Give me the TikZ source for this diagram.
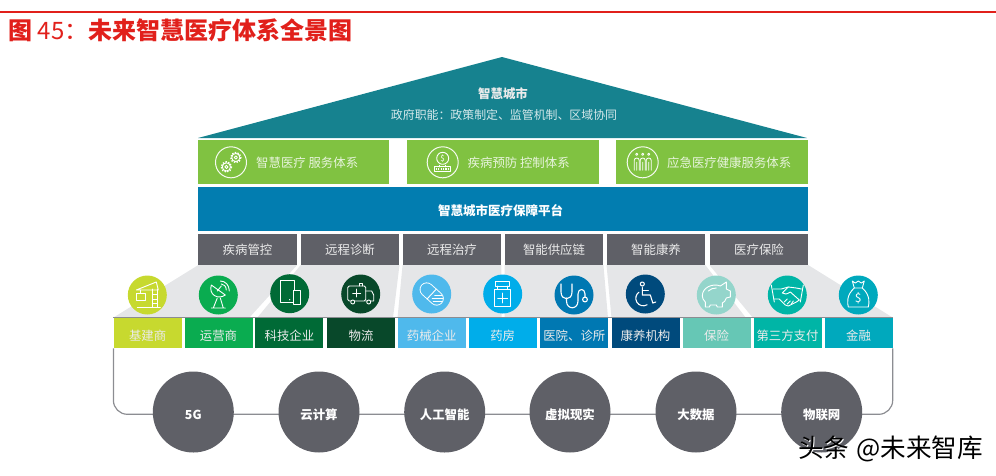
\documentclass[tikz,border=0pt]{standalone}
\usepackage{fontspec}
\usepackage{tikz}
\usepackage{xcolor}
\usetikzlibrary{backgrounds}
\setmainfont{Noto Sans CJK SC}

\definecolor{titlered}{HTML}{E1201B}
\definecolor{roofteal}{HTML}{16828F}
\definecolor{leafgreen}{HTML}{80C241}
\definecolor{platblue}{HTML}{027DB0}
\definecolor{slategray}{HTML}{5F6067}
\definecolor{wedgegray}{HTML}{E5E6E8}
\definecolor{busgray}{HTML}{8C8D92}
\definecolor{pillblue}{HTML}{4FB9EC}

\tikzset{
	flatbox/.style={inner sep=0, text=white!92!black, font=\fontsize{12.4}{14}\selectfont},
	leafbox/.style={flatbox, fill=leafgreen, minimum width=191.5, minimum height=44},
	funcbox/.style={flatbox, fill=slategray, minimum width=98.5, minimum height=31},
	tagbox/.style={flatbox, minimum width=68, minimum height=30.5, text height=16, text depth=1.2},
	iconbg/.style={circle, inner sep=0, minimum size=39},
	techball/.style={circle, inner sep=0, minimum size=81, fill=slategray, text=white, text height=16, text depth=1.2, font=\fontsize{12.4}{14}\selectfont\bfseries},
	ringicon/.style={circle, inner sep=0, minimum size=31, draw=white!92!leafgreen, line width=1},
	iconline/.style={draw=white, line width=0.9, line join=round, line cap=round},
	wedge/.style={fill=wedgegray},
	busline/.style={draw=busgray, line width=1.2}
}
\newcommand{\shadowtext}[1]{\rlap{\raisebox{-1pt}{\kern1pt\textcolor{white}{#1}}}#1}

\begin{document}
\begin{tikzpicture}[x=1pt, y=-1pt]
	\useasboundingbox (0,0) rectangle (996,475);

	% Top rule and title
	\draw[titlered, line width=2] (0,12) -- (996,12);
	\node[anchor=west, inner sep=0, text=titlered, font=\fontsize{24}{28}\selectfont\bfseries] (title) at (8,30.5) {图 {\mdseries 45：}未来智慧医疗体系全景图};

	% Roof with its two lines
	\fill[roofteal] (198,138) -- (502,57) -- (807,138) -- cycle;
	\node[inner sep=0, text=white!92!black, font=\fontsize{12.4}{14}\selectfont\bfseries] (cityname) at (503,93.5) {智慧城市};
	\node[inner sep=0, text=white!82!roofteal, font=\fontsize{11.9}{14}\selectfont] (cityrole) at (504,115) {政府职能：政策制定、监管机制、区域协同};

	% Three service boxes
	\node[leafbox] (smartcare) at (293.5,162) {};
	\node[leafbox] (prevent) at (503,162) {};
	\node[leafbox] (urgent) at (712,162) {};
	\node[anchor=west, flatbox, text=white!82!leafgreen] (smartcaretext) at (256,163) {智慧医疗 服务体系};
	\node[anchor=west, flatbox, text=white!82!leafgreen] (preventtext) at (467.5,163) {疾病预防 控制体系};
	\node[anchor=west, flatbox, text=white!82!leafgreen] (urgenttext) at (667,163) {应急医疗健康服务体系};

	% Platform bar
	\node[flatbox, fill=platblue, minimum width=610, minimum height=44.5, text=white, text height=14.5, text depth=1.2, font=\fontsize{12.5}{14}\selectfont\bfseries] (platform) at (503,209) {\kern-5pt 智慧城市医疗保障平台};

	% Six function boxes
	\node[funcbox] (control) at (247.5,249.5) {疾病管控};
	\node[funcbox] (diagnose) at (350,249.5) {远程诊断};
	\node[funcbox] (treat) at (452,249.5) {远程治疗};
	\node[funcbox] (supply) at (554,249.5) {智能供应链};
	\node[funcbox] (recover) at (656,249.5) {智能康养};
	\node[funcbox] (insure) at (759,249.5) {医疗保险};

	% Eleven tag boxes
	\node[tagbox, fill={rgb,255:red,199;green,217;blue,47}] (tag1) at (147.6,333) {基建商};
	\node[tagbox, fill={rgb,255:red,10;green,172;blue,80}] (tag2) at (218.5,333) {运营商};
	\node[tagbox, fill={rgb,255:red,0;green,106;blue,54}] (tag3) at (289.4,333) {科技企业};
	\node[tagbox, fill={rgb,255:red,8;green,72;blue,42}] (tag4) at (361,333) {物流};
	\node[tagbox, fill=pillblue] (tag5) at (431.7,333) {药械企业};
	\node[tagbox, fill={rgb,255:red,0;green,173;blue,234}] (tag6) at (502.7,333) {药房};
	\node[tagbox, fill={rgb,255:red,0;green,120;blue,178}] (tag7) at (574.3,333) {医院、诊所};
	\node[tagbox, fill={rgb,255:red,0;green,74;blue,124}] (tag8) at (645.5,333) {康养机构};
	\node[tagbox, fill={rgb,255:red,102;green,199;blue,181}] (tag9) at (716.5,333) {保险};
	\node[tagbox, fill={rgb,255:red,0;green,181;blue,166}] (tag10) at (787.5,333) {第三方支付};
	\node[tagbox, fill={rgb,255:red,0;green,169;blue,189}] (tag11) at (858.5,333) {金融};

	% Grey funnels and the bus go behind everything
	\begin{scope}[on background layer]
		\fill[wedge] (control.south west) -- (control.south east) -- (249,318) -- (tag1.north west) -- cycle;
		\fill[wedge] (diagnose.south west) -- (diagnose.south east) -- (393,318) -- (257,318) -- cycle;
		\fill[wedge] (treat.south west) -- (treat.south east) -- (501.5,318) -- (397.5,318) -- cycle;
		\fill[wedge] (supply.south west) -- (supply.south east) -- (608,318) -- (504.5,318) -- cycle;
		\fill[wedge] (recover.south west) -- (recover.south east) -- (746,318) -- (611.5,318) -- cycle;
		\fill[wedge] (insure.south west) -- (insure.south east) -- (tag11.north east) -- (753,318) -- cycle;
		\coordinate (busmid) at (500,414.3);
		\draw[busline] (tag1.north west) -- (tag11.north east);
		\draw[busline, rounded corners=14] (tag1.south west) |- (busmid) -| (tag11.south east);
	\end{scope}

	% Six technology balls on the bus
	\node[techball] (tech1) at (193.3,412) {5G};
	\node[techball] (tech2) at (319,412) {云计算};
	\node[techball] (tech3) at (444.7,412) {人工智能};
	\node[techball] (tech4) at (570,412) {虚拟现实};
	\node[techball] (tech5) at (696,412) {大数据};
	\node[techball] (tech6) at (821.7,412) {物联网};

	% Ring icons in the service boxes
	\node[ringicon] (gears) at (231,162.3) {};
	\node[ringicon] (coin) at (442.7,162.3) {};
	\node[ringicon] (people) at (642.7,162.3) {};

	\begin{scope}[shift={(gears.center)}, iconline]
		\draw (4.8,-4.8) circle (4.1);
		\draw (4.8,-4.8) circle (1.6);
		\draw[line width=1.4, line cap=butt, dash pattern=on 1.4 off 1.4] (4.8,-4.8) circle (5.1);
		\draw (-4.6,4.6) circle (4.1);
		\draw (-4.6,4.6) circle (1.6);
		\draw[line width=1.4, line cap=butt, dash pattern=on 1.4 off 1.4] (-4.6,4.6) circle (5.1);
	\end{scope}
	\begin{scope}[shift={(coin.center)}, iconline]
		\draw (0,-4) circle (6);
		\node[inner sep=0, text=white, font=\fontsize{8}{8}\selectfont] (coinsign) at (0,-4) {\$};
		\draw (-8,4.5) rectangle (8,9);
		\draw[line width=1.2, line cap=butt, dash pattern=on 1.2 off 1.2] (-7,6.7) -- (7,6.7);
		\draw (-3,3) -- (-3,4.5) (3,3) -- (3,4.5);
	\end{scope}
	\begin{scope}[shift={(people.center)}, iconline, line width=0.8]
		\draw (-6,-8) circle (1.1);
		\draw (0,-8) circle (1.1);
		\draw (6,-8) circle (1.1);
		\draw (-8.5,8) -- (-8.5,-2) .. controls (-8.5,-5) and (-3.5,-5) .. (-3.5,-2) -- (-3.5,8) (-6,0) -- (-6,8);
		\draw (-2.5,8) -- (-2.5,-2) .. controls (-2.5,-5) and (2.5,-5) .. (2.5,-2) -- (2.5,8) (0,0) -- (0,8);
		\draw (3.5,8) -- (3.5,-2) .. controls (3.5,-5) and (8.5,-5) .. (8.5,-2) -- (8.5,8) (6,0) -- (6,8);
	\end{scope}

	% Round icons over the funnels
	\node[iconbg, fill={rgb,255:red,199;green,217;blue,47}] (crane) at (147.3,295) {};
	\node[iconbg, fill={rgb,255:red,10;green,172;blue,80}] (dish) at (218.3,295) {};
	\node[iconbg, fill={rgb,255:red,0;green,106;blue,54}] (tablet) at (289.7,293.7) {};
	\node[iconbg, fill={rgb,255:red,8;green,72;blue,42}] (ambulance) at (360.7,294) {};
	\node[iconbg, fill=pillblue] (pill) at (431.7,294) {};
	\node[iconbg, fill={rgb,255:red,0;green,173;blue,234}] (bottle) at (502.7,294) {};
	\node[iconbg, fill={rgb,255:red,0;green,120;blue,178}] (stetho) at (574,295) {};
	\node[iconbg, fill={rgb,255:red,0;green,74;blue,124}] (wheelchair) at (645.3,294) {};
	\node[iconbg, fill={rgb,255:red,148;green,213;blue,203}] (piggy) at (716.3,295) {};
	\node[iconbg, fill={rgb,255:red,0;green,181;blue,166}] (handshake) at (787.3,295) {};
	\node[iconbg, fill={rgb,255:red,0;green,169;blue,189}] (moneybag) at (858.3,295) {};

	\begin{scope}[shift={(crane.center)}, iconline]
		\draw (-11,-5) -- (9,-13) -- (11,-5) -- cycle;
		\draw (5,-6) -- (5,12) (10,-6) -- (10,12);
		\draw (5,-1) -- (10,-1) (5,4) -- (10,4) (5,8) -- (10,8);
		\draw (-7,-5) -- (-7,-2);
		\draw (-11,-2) rectangle (-2,5);
		\draw (-10,12) -- (13,12);
	\end{scope}
	\begin{scope}[shift={(dish.center)}, iconline]
		\draw (-7,-10) .. controls (-10,0) and (0,5) .. (7,0) -- cycle;
		\draw (-1,-4) -- (3,-9);
		\draw (-1,3) -- (-5,13) (2,3) -- (5,13) (-7,13) -- (7,13);
		\draw (2,-14) .. controls (7,-14) and (11,-10) .. (11,-4);
		\draw (3,-11) .. controls (5,-11) and (8,-9) .. (8,-5);
	\end{scope}
	\begin{scope}[shift={(tablet.center)}, iconline]
		\draw (-9,-13) rectangle (5,9);
		\fill[white] (0,6) circle (0.7);
		\draw[fill={rgb,255:red,0;green,106;blue,54}] (4,-3) rectangle (10.5,11);
	\end{scope}
	\begin{scope}[shift={(ambulance.center)}, iconline]
		\draw[rounded corners=1.5] (-13,7) -- (-13,-8) -- (5,-8) -- (5,7) -- cycle;
		\draw (5,-3) -- (11,-3) -- (13,1) -- (13,7) -- (5,7);
		\draw (-4,-5) -- (-4,3) (-8,-1) -- (0,-1);
		\draw (-1,-8) -- (-1,-11) -- (2,-11) -- (2,-8);
		\draw[fill={rgb,255:red,8;green,72;blue,42}] (-8,8) circle (2);
		\draw[fill={rgb,255:red,8;green,72;blue,42}] (8,8) circle (2);
	\end{scope}
	\begin{scope}[shift={(pill.center)}]
		\draw[white, line width=14.2, line cap=round] (-5,-4.5) -- (5,4.5);
		\draw[pillblue, line width=12.4, line cap=round] (-5,-4.5) -- (5,4.5);
		\draw[iconline] (4.7,-5) -- (-4.7,5);
		\draw[iconline] (3,1.5) -- (10,1.5) (0.5,4.5) -- (11,4.5) (1.5,7.5) -- (10,7.5);
	\end{scope}
	\begin{scope}[shift={(bottle.center)}, iconline]
		\draw (-7,-13) rectangle (7,-8);
		\draw (-5,-8) -- (-5,-5) (5,-8) -- (5,-5);
		\draw (-8,-5) rectangle (8,12);
		\draw (0,-1) -- (0,9) (-5,4) -- (5,4);
	\end{scope}
	\begin{scope}[shift={(stetho.center)}, iconline, line width=1.1]
		\draw (-13,-11) -- (-13,-3) .. controls (-13,6) and (-2,6) .. (-2,-3) -- (-2,-11);
		\draw (-7.5,3) -- (-7.5,6) .. controls (-7.5,15) and (4,15) .. (4,6) -- (4,-1) .. controls (4,-7) and (11,-7) .. (11,-1) -- (11,2);
		\draw (11,4.5) circle (2.4);
	\end{scope}
	\begin{scope}[shift={(wheelchair.center)}, iconline, line width=1.1]
		\draw (-3,-10) circle (2);
		\draw (-3,-6.5) -- (-3,1) -- (5,1) -- (7.5,9) -- (10.5,8);
		\draw (-3,-3.5) -- (3,-3.5);
		\draw (1.75,10.8) arc (60:235:7.5);
	\end{scope}
	\begin{scope}[shift={(piggy.center)}, iconline]
		\draw (-14,1) .. controls (-14,-8) and (-3,-12) .. (4,-9) -- (10,-13) -- (10,-6) -- (14,-4) -- (14,2) -- (10,3) .. controls (9,6) and (8,7) .. (6,8) -- (6,12) -- (1,12) -- (0,10) -- (-6,10) -- (-7,12) -- (-11,12) -- (-11,7) .. controls (-13,5) and (-14,3) .. (-14,1) -- cycle;
		\draw (-8,-4) .. controls (-6,-6) and (-3,-7) .. (0,-7);
	\end{scope}
	\begin{scope}[shift={(handshake.center)}, iconline]
		\draw (-16,-10) -- (-13,7) (16,-10) -- (13,7);
		\draw (-14,-6) -- (-6,-6) -- (1,-8) -- (9,-7) -- (14,-6);
		\draw (1,-8) -- (-5,-2) .. controls (-3,0) and (0,-1) .. (3,-3) -- (12,5);
		\draw (-13,4) -- (-8,4) -- (-2,10) -- (1,11) -- (9,7) -- (12,5);
		\draw (-3,7) -- (0,4) (0,9) -- (3,6) (4,9) -- (6,6);
	\end{scope}
	\begin{scope}[shift={(moneybag.center)}, iconline]
		\draw (-6,-14) -- (-3,-12) -- (0,-14) -- (3,-12) -- (6,-14) -- (4,-7) -- (-4,-7) -- cycle;
		\draw (-4,-7) .. controls (-12,0) and (-11,8) .. (-10,12) -- (10,12) .. controls (11,8) and (12,0) .. (4,-7);
		\node[inner sep=0, text=white, font=\fontsize{12}{12}\selectfont] (bagsign) at (0,3) {\$};
	\end{scope}

	% Source mark in the lower right corner
	\node[anchor=west, inner sep=0, font=\fontsize{25.6}{28}\selectfont] (source) at (798,449) {\shadowtext{头条\hspace{7pt}@未来智库}};
\end{tikzpicture}
\end{document}
